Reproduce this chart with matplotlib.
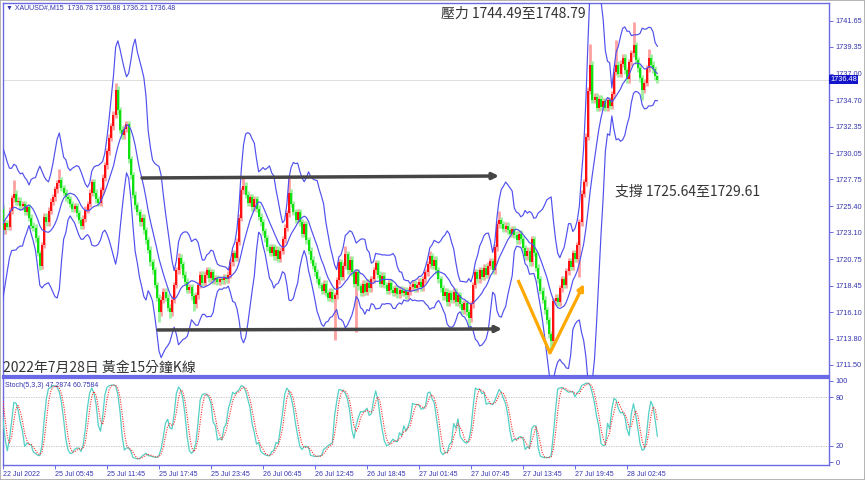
import numpy as np
import pandas as pd
import matplotlib
matplotlib.use("Agg")
import matplotlib.pyplot as plt
from matplotlib.patches import Rectangle

# ---------------- data ----------------
# closes of 10 bars before the first visible bar (indicator warm-up)
PRE_CLOSE = [1721.0, 1720.6, 1721.0, 1721.8, 1723.0, 1724.6, 1726.2, 1727.0, 1726.3, 1725.2]

# closes of the visible 15-minute bars
CLOSE = [
    1723.3, 1723.9, 1723.6, 1725.0, 1726.1, 1726.5, 1725.8, 1725.9, 1725.4, 1725.6,
    1724.9, 1725.3, 1724.4, 1723.7, 1723.5, 1722.6, 1721.3, 1720.2, 1722.0, 1724.5,
    1724.0, 1725.0, 1725.8, 1726.2, 1726.9, 1727.4, 1727.7, 1727.0, 1726.6, 1726.2,
    1726.0, 1725.6, 1725.2, 1725.4, 1724.8, 1724.2, 1723.7, 1724.3, 1725.1, 1725.6,
    1726.6, 1727.5, 1726.6, 1726.0, 1725.7, 1726.8, 1727.9, 1729.0, 1730.2, 1731.4,
    1732.4, 1733.4, 1735.6, 1733.8, 1732.1, 1731.6, 1732.2, 1732.6, 1729.5, 1728.1,
    1726.4, 1725.5, 1724.9, 1724.0, 1724.4, 1723.3, 1722.4, 1721.6, 1720.5, 1719.8,
    1718.5, 1717.4, 1716.1, 1717.2, 1717.9, 1717.4, 1716.5, 1716.1, 1717.2, 1718.5,
    1719.8, 1720.9, 1720.3, 1719.4, 1718.8, 1718.1, 1718.3, 1717.5, 1716.8, 1717.6,
    1718.5, 1719.4, 1718.7, 1719.4, 1719.8, 1719.1, 1719.6, 1718.9, 1719.1, 1718.8,
    1719.0, 1718.9, 1719.2, 1719.0, 1719.4, 1720.5, 1721.3, 1720.9, 1722.3, 1724.4,
    1726.8, 1727.2, 1726.4, 1725.7, 1726.2, 1725.3, 1726.0, 1725.2, 1724.5, 1724.0,
    1723.2, 1722.6, 1721.8, 1721.3, 1721.8, 1721.0, 1721.6, 1720.8, 1721.5, 1722.5,
    1723.5, 1724.8, 1726.6, 1725.6, 1724.9, 1724.2, 1724.9, 1724.0, 1723.0, 1723.8,
    1722.4, 1721.5, 1720.7, 1720.2, 1719.6, 1719.0, 1718.5, 1718.0, 1718.6, 1717.8,
    1717.4, 1717.9, 1717.3, 1717.6, 1718.9, 1720.5, 1719.2, 1720.2, 1721.2, 1719.8,
    1720.7, 1719.6, 1718.6, 1719.6, 1718.4, 1717.8, 1718.6, 1717.9, 1718.7, 1718.2,
    1719.0, 1719.8, 1720.4, 1719.4, 1718.6, 1719.3, 1718.5, 1718.0, 1718.7, 1718.1,
    1717.8, 1718.2, 1717.7, 1718.1, 1717.8, 1718.0, 1717.6, 1717.9, 1718.3, 1718.6,
    1718.2, 1718.5, 1718.8, 1718.3, 1719.0, 1719.6, 1720.3, 1721.0, 1720.2, 1720.7,
    1719.8, 1719.0, 1718.2, 1717.5, 1717.9, 1717.0, 1717.8, 1717.2, 1717.9, 1717.0,
    1717.6, 1716.8, 1716.3, 1716.9, 1716.1, 1715.6, 1716.8, 1718.5, 1719.6, 1719.0,
    1719.8, 1719.2, 1720.0, 1719.4, 1720.2, 1720.6, 1719.8, 1721.8, 1723.8, 1724.2,
    1723.8, 1723.4, 1723.7, 1723.3, 1723.0, 1723.4, 1722.9, 1722.4, 1723.0, 1722.5,
    1721.7, 1721.0, 1721.5, 1720.5, 1722.5, 1721.3, 1720.0, 1719.0, 1718.0, 1717.2,
    1716.3, 1715.4, 1714.2, 1713.6, 1717.1, 1717.4, 1717.0, 1718.2, 1719.0, 1718.5,
    1719.7, 1720.6, 1720.1, 1721.3, 1720.8, 1722.0, 1724.0, 1726.5, 1727.5, 1731.5,
    1735.5, 1737.8, 1734.7, 1735.0, 1734.0, 1734.8, 1734.1, 1734.6, 1734.0, 1734.7,
    1734.2, 1735.2, 1737.2, 1737.8, 1737.0, 1737.9, 1738.4, 1737.3, 1736.5, 1738.0,
    1738.8, 1739.5, 1738.2, 1737.5, 1736.6, 1735.6, 1736.2, 1737.5, 1738.4, 1737.8,
    1737.4, 1736.78, 1736.48,
]

# bars whose wicks stand out
HIGH_OVERRIDE = {5: 1727.7, 26: 1728.7, 52: 1736.2, 81: 1721.3, 111: 1728.0, 132: 1727.9,
                 158: 1721.9, 197: 1721.5, 229: 1725.0, 271: 1739.6, 283: 1740.0,
                 291: 1741.5, 298: 1739.2, 302: 1736.88}
LOW_OVERRIDE = {17: 1719.8, 72: 1715.3, 77: 1715.6, 88: 1716.2, 153: 1713.7, 163: 1714.4,
                215: 1714.8, 253: 1712.9, 266: 1719.2, 295: 1734.7, 302: 1736.21}
LAST_OPEN = 1736.78
WICK = 0.3

TIME_LABELS = ["22 Jul 2022", "25 Jul 05:45", "25 Jul 11:45", "25 Jul 17:45", "25 Jul 23:45",
               "26 Jul 06:45", "26 Jul 12:45", "26 Jul 18:45", "27 Jul 01:45", "27 Jul 07:45",
               "27 Jul 13:45", "27 Jul 19:45", "28 Jul 02:45"]
TIME_LABEL_BARS = [0, 24, 48, 72, 96, 120, 144, 168, 192, 216, 240, 264, 288]
PRICE_TICKS = [1741.65, 1739.35, 1737.00, 1734.70, 1732.35, 1730.05, 1727.75, 1725.40,
               1723.10, 1720.75, 1718.45, 1716.10, 1713.80, 1711.50]
STOCH_TICKS = [100, 80, 20, 0]
STOCH_LEVELS = [80, 20]
LAST_PRICE = 1736.48
BB_PERIOD, BB_DEV = 10, 3.0

# ---------------- derived series ----------------
allc = np.array(PRE_CLOSE + CLOSE, dtype=float)
npre = len(PRE_CLOSE)
opens = np.concatenate([[allc[0]], allc[:-1]])
opens[-1] = LAST_OPEN
highs = np.maximum(opens, allc) + WICK
lows = np.minimum(opens, allc) - WICK
for k, v in HIGH_OVERRIDE.items():
    highs[npre + k] = v
for k, v in LOW_OVERRIDE.items():
    lows[npre + k] = v
xs = np.arange(len(allc)) - npre

s = pd.Series(allc)
mid = s.rolling(BB_PERIOD, min_periods=5).mean()
sd = s.rolling(BB_PERIOD, min_periods=5).std(ddof=0)
up, lo = mid + BB_DEV * sd, mid - BB_DEV * sd

hh = pd.Series(highs).rolling(5, min_periods=1).max()
ll = pd.Series(lows).rolling(5, min_periods=1).min()
num = (s - ll).rolling(3, min_periods=1).sum()
den = (hh - ll).rolling(3, min_periods=1).sum()
K = 100 * num / den
D = K.rolling(3, min_periods=1).mean()

# ---------------- figure ----------------
W, H = 865, 480
fig = plt.figure(figsize=(W / 100, H / 100), dpi=100)
fig.patch.set_facecolor("white")
fig.add_artist(Rectangle((0, 0), 1, 1, transform=fig.transFigure, fill=False,
                         edgecolor="#a8a8a8", lw=1.2))

L, R = 3, 829
ax = fig.add_axes([L / W, 1 - 376 / H, (R - L) / W, (376 - 3) / H])
ax2 = fig.add_axes([L / W, 1 - 465 / H, (R - L) / W, (465 - 378) / H])

px_per_bar = 52 / 24
xmax = (R - L) / px_per_bar
blue = "#6a6ae6"
tcol = "#3434b0"
tfont = ["Liberation Sans", "DejaVu Sans"]

for a in (ax, ax2):
    a.set_xlim(0, xmax)
    for sp in a.spines.values():
        sp.set_color(blue)
        sp.set_linewidth(1.0)
    a.yaxis.tick_right()
    a.tick_params(axis="y", which="both", direction="out", length=3, width=0.7,
                  color=blue, labelcolor=tcol, labelsize=5.3, pad=1.5)
ax.spines["bottom"].set_linewidth(1.6)
ax2.spines["top"].set_linewidth(1.6)

# candles
up_mask = allc >= opens
body_lo = np.minimum(opens, allc)
body_hi = np.maximum(opens, allc)
body_hi = np.where(body_hi - body_lo < 0.1, body_lo + 0.1, body_hi)
ax.vlines(xs[up_mask], lows[up_mask], highs[up_mask], colors="#ffa0a0", lw=2.0, zorder=2)
ax.vlines(xs[~up_mask], lows[~up_mask], highs[~up_mask], colors="#9ef09e", lw=2.0, zorder=2)
ax.vlines(xs[up_mask], body_lo[up_mask], body_hi[up_mask], colors="#ff0000", lw=1.3, zorder=3)
ax.vlines(xs[~up_mask], body_lo[~up_mask], body_hi[~up_mask], colors="#00e000", lw=1.3, zorder=3)

# Bollinger bands
for series in (up, mid, lo):
    ax.plot(xs, series, color="#5050ee", lw=0.85, zorder=4)

ax.set_ylim(1710.53, 1743.20)
ax.set_yticks(PRICE_TICKS)
ax.set_yticklabels([f"{v:.2f}" for v in PRICE_TICKS], fontfamily=tfont)
ax.set_xticks([])
ax.axhline(LAST_PRICE, color="#d8d8d8", lw=0.6, zorder=1)

# annotations (pixel positions -> data)
def bx(px):
    return (px - L) / px_per_bar

def py(y):
    return 1743.46 - 0.08757 * y

arrow_kw = dict(arrowstyle="-|>", color="#454545", lw=2.5, mutation_scale=9,
                shrinkA=0, shrinkB=0)
ax.annotate("", xy=(bx(499), py(176)), xytext=(bx(142), py(178)), arrowprops=arrow_kw, zorder=6)
ax.annotate("", xy=(bx(502), py(329)), xytext=(bx(158), py(330)), arrowprops=arrow_kw, zorder=6)
ax.plot([bx(518), bx(550)], [py(280), py(353)], color="#ffa800", lw=2.3,
        solid_capstyle="butt", zorder=6)
ax.annotate("", xy=(bx(584), py(284)), xytext=(bx(550), py(353)),
            arrowprops=dict(arrowstyle="-|>", color="#ffa800", lw=2.3, mutation_scale=9,
                            shrinkA=0, shrinkB=0), zorder=6)

cjk = ["Noto Sans CJK TC", "DejaVu Sans"]
fig.text(441 / W, 1 - 14 / H, "壓力 1744.49至1748.79", fontfamily=cjk, fontsize=10,
         color="#333333", va="center", ha="left")
fig.text(615 / W, 1 - 192 / H, "支撐 1725.64至1729.61", fontfamily=cjk, fontsize=10,
         color="#333333", va="center", ha="left")
fig.text(3 / W, 1 - 368 / H, "2022年7月28日 黃金15分鐘K線", fontfamily=cjk, fontsize=10,
         color="#333333", va="center", ha="left", zorder=10)

fig.text(6 / W, 1 - 7.5 / H, "▼ XAUUSD#,M15  1736.78 1736.88 1736.21 1736.48",
         fontfamily=tfont, fontsize=5.0, color=tcol, va="center", ha="left")
fig.text(830 / W, 1 - 79.3 / H, "1736.48", fontfamily=tfont, fontsize=5.3, color="white",
         va="center", ha="left",
         bbox=dict(boxstyle="square,pad=0.15", facecolor="#1414c8", edgecolor="none"))

# stochastic panel
ax2.plot(xs, K, color="#55d0c4", lw=0.9, zorder=3)
ax2.plot(xs, D, color="#ff2a2a", lw=0.8, ls=(0, (1, 1.2)), zorder=4)
for lvl in STOCH_LEVELS:
    ax2.axhline(lvl, color="#bdbdbd", lw=0.6, ls=(0, (1.5, 1.5)), zorder=1)
ax2.set_ylim(-3.7, 103.7)
ax2.set_yticks(STOCH_TICKS)
ax2.set_yticklabels([str(v) for v in STOCH_TICKS], fontfamily=tfont)
ax2.text(0.003, 0.955, "Stoch(5,3,3) 47.2874 60.7584", transform=ax2.transAxes,
         fontfamily=tfont, fontsize=5.0, color=tcol, va="top", ha="left")
ax2.set_xticks(TIME_LABEL_BARS)
ax2.set_xticklabels(TIME_LABELS, fontfamily=tfont)
ax2.tick_params(axis="x", direction="out", length=3, width=0.7, color=blue,
                labelcolor=tcol, labelsize=5.0, pad=1.5)
for lbl in ax2.get_xticklabels():
    lbl.set_horizontalalignment("left")

fig.savefig("out.png", dpi=100, facecolor="white")
